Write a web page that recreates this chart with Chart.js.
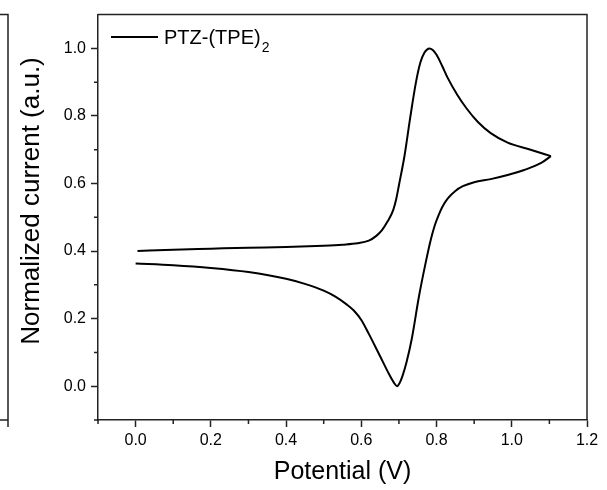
<!DOCTYPE html>
<html>
<head>
<meta charset="utf-8">
<script src="https://cdn.jsdelivr.net/npm/chart.js@4.4.1/dist/chart.umd.min.js"></script>
<style>
  html, body { margin: 0; padding: 0; background: #fff; }
</style>
</head>
<body>
<canvas id="cv" width="607" height="490"></canvas>
<script>
// anodic sweep (V vs normalized current)
var fwdPotential = [0.005, 0.1, 0.2, 0.3, 0.4, 0.5, 0.55, 0.59, 0.62, 0.64, 0.655, 0.67, 0.685, 0.693, 0.70, 0.715, 0.73, 0.745, 0.757, 0.768, 0.781, 0.79, 0.80, 0.815, 0.83, 0.855, 0.88, 0.91, 0.944, 0.989, 1.05, 1.104];
var fwdCurrent   = [0.400, 0.404, 0.407, 0.410, 0.412, 0.416, 0.419, 0.423, 0.431, 0.445, 0.462, 0.488, 0.522, 0.555, 0.595, 0.683, 0.795, 0.898, 0.958, 0.988, 1.000, 0.995, 0.981, 0.948, 0.912, 0.863, 0.822, 0.782, 0.749, 0.721, 0.700, 0.681];
// cathodic sweep back to 0 V
var revPotential = [1.104, 1.077, 1.033, 0.989, 0.944, 0.90, 0.87, 0.85, 0.83, 0.815, 0.805, 0.795, 0.785, 0.771, 0.753, 0.735, 0.72, 0.71, 0.703, 0.695, 0.687, 0.675, 0.66, 0.64, 0.62, 0.60, 0.58, 0.56, 0.53, 0.50, 0.45, 0.40, 0.30, 0.20, 0.10, 0.0];
var revCurrent   = [0.681, 0.660, 0.640, 0.625, 0.613, 0.604, 0.592, 0.578, 0.556, 0.530, 0.505, 0.475, 0.435, 0.365, 0.264, 0.145, 0.070, 0.032, 0.012, 0.000, 0.010, 0.033, 0.066, 0.111, 0.155, 0.196, 0.224, 0.243, 0.266, 0.283, 0.303, 0.318, 0.338, 0.350, 0.358, 0.363];

var xTickValues = [0, 0.2, 0.4, 0.6, 0.8, 1.0, 1.2];
var yTickValues = [0, 0.2, 0.4, 0.6, 0.8, 1.0];
var xMinorTicks = [-0.1, 0.1, 0.3, 0.5, 0.7, 0.9, 1.1];
var yMinorTicks = [-0.1, 0.1, 0.3, 0.5, 0.7, 0.9];

var seriesName = 'PTZ-(TPE)';
var seriesSub = '2';

var FONT = '"Liberation Sans", Arial, sans-serif';
var AXIS = '#222';

function toPoints(xs, ys) {
  return xs.map(function (x, i) { return { x: x, y: ys[i] }; });
}

// frame, minor ticks, axis titles and the legend entry
var decor = {
  id: 'decor',
  afterDraw: function (chart) {
    var ctx = chart.ctx, a = chart.chartArea;
    var sx = chart.scales.x, sy = chart.scales.y;
    ctx.save();
    ctx.strokeStyle = AXIS;
    ctx.lineWidth = 1.5;

    // top + right edges
    ctx.beginPath();
    ctx.moveTo(a.left, a.top);
    ctx.lineTo(a.right, a.top);
    ctx.lineTo(a.right, a.bottom);
    ctx.stroke();

    // minor ticks
    ctx.beginPath();
    xMinorTicks.forEach(function (v) {
      var px = sx.getPixelForValue(v);
      ctx.moveTo(px, a.bottom);
      ctx.lineTo(px, a.bottom + 4);
    });
    yMinorTicks.forEach(function (v) {
      var py = sy.getPixelForValue(v);
      ctx.moveTo(a.left, py);
      ctx.lineTo(a.left - 4, py);
    });
    ctx.stroke();

    // edge of the neighbouring panel
    ctx.beginPath();
    ctx.moveTo(0, a.top);
    ctx.lineTo(8, a.top);
    ctx.lineTo(8, a.bottom + 7);
    ctx.moveTo(0, a.bottom);
    ctx.lineTo(8, a.bottom);
    ctx.stroke();

    // axis titles
    ctx.fillStyle = '#000';
    ctx.textAlign = 'center';
    ctx.textBaseline = 'middle';
    ctx.font = '25px ' + FONT;
    ctx.fillText('Potential (V)', (a.left + a.right) / 2, 472);
    ctx.translate(32, 201);
    ctx.rotate(-Math.PI / 2);
    ctx.font = '26px ' + FONT;
    ctx.fillText('Normalized current (a.u.)', 0, 0);
    ctx.restore();

    // legend
    ctx.save();
    ctx.strokeStyle = '#000';
    ctx.lineWidth = 2;
    ctx.beginPath();
    ctx.moveTo(111, 37);
    ctx.lineTo(158, 37);
    ctx.stroke();
    ctx.fillStyle = '#000';
    ctx.textAlign = 'left';
    ctx.textBaseline = 'alphabetic';
    ctx.font = '20px ' + FONT;
    ctx.fillText(seriesName, 164, 44);
    var w = ctx.measureText(seriesName).width;
    ctx.font = '14px ' + FONT;
    ctx.fillText(seriesSub, 164 + w + 1, 52);
    ctx.restore();
  }
};

var lineStyle = {
  showLine: true,
  borderColor: '#000',
  borderWidth: 2,
  pointRadius: 0,
  cubicInterpolationMode: 'monotone',
  fill: false
};

new Chart(document.getElementById('cv'), {
  type: 'scatter',
  data: {
    datasets: [
      Object.assign({ label: 'forward', data: toPoints(fwdPotential, fwdCurrent) }, lineStyle),
      Object.assign({ label: 'reverse', data: toPoints(revPotential, revCurrent) }, lineStyle)
    ]
  },
  options: {
    responsive: false,
    animation: false,
    devicePixelRatio: 1,
    layout: { padding: { top: 14, right: 20, left: 0, bottom: 0 } },
    plugins: {
      legend: { display: false },
      tooltip: { enabled: false }
    },
    scales: {
      x: {
        type: 'linear',
        position: 'bottom',
        min: -0.1,
        max: 1.2,
        afterFit: function (s) { s.height = 70; },
        afterBuildTicks: function (s) {
          s.ticks = xTickValues.map(function (v) { return { value: v }; });
        },
        border: { color: AXIS, width: 1.5 },
        grid: { drawOnChartArea: false, tickLength: 7, tickWidth: 1.5, tickColor: AXIS },
        ticks: {
          color: '#000',
          padding: 4,
          maxRotation: 0,
          font: { family: FONT, size: 16 },
          callback: function (v) { return Number(v).toFixed(1); }
        }
      },
      y: {
        type: 'linear',
        min: -0.1,
        max: 1.1,
        afterFit: function (s) { s.width = 98; },
        afterBuildTicks: function (s) {
          s.ticks = yTickValues.map(function (v) { return { value: v }; });
        },
        border: { color: AXIS, width: 1.5 },
        grid: { drawOnChartArea: false, tickLength: 7, tickWidth: 1.5, tickColor: AXIS },
        ticks: {
          color: '#000',
          padding: 5,
          font: { family: FONT, size: 16 },
          callback: function (v) { return Number(v).toFixed(1); }
        }
      }
    }
  },
  plugins: [decor]
});
</script>
</body>
</html>
